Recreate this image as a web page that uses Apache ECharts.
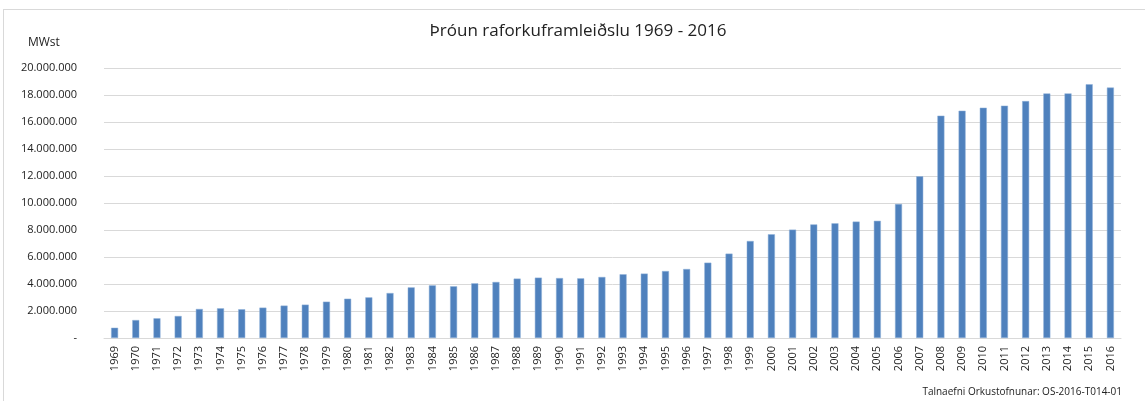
<!DOCTYPE html>
<html>
<head>
<meta charset="utf-8">
<script src="https://cdn.jsdelivr.net/npm/echarts@6/dist/echarts.min.js"></script>
<style>
html,body{margin:0;padding:0;background:#fff;}
#c{width:1145px;height:401px;}
</style>
</head>
<body>
<div id="c"></div>
<script>
const years = ['1969','1970','1971','1972','1973','1974','1975','1976','1977','1978','1979','1980','1981','1982','1983','1984','1985','1986','1987','1988','1989','1990','1991','1992','1993','1994','1995','1996','1997','1998','1999','2000','2001','2002','2003','2004','2005','2006','2007','2008','2009','2010','2011','2012','2013','2014','2015','2016'];
const production = [760000,1330000,1460000,1630000,2150000,2200000,2130000,2250000,2400000,2470000,2690000,2910000,3010000,3330000,3750000,3900000,3830000,4050000,4150000,4400000,4470000,4440000,4420000,4520000,4720000,4770000,4960000,5110000,5580000,6250000,7185000,7684000,8028000,8411000,8495000,8623000,8681000,9925000,11976000,16468000,16835000,17059000,17210000,17549000,18116000,18120000,18798000,18549000];
const titleText = 'Þróun raforkuframleiðslu 1969 - 2016';
const unitText = 'MWst';
const sourceText = 'Talnaefni Orkustofnunar: OS-2016-T014-01';

function fmt(v){
  if (v === 0) return '-';
  return String(v).replace(/\B(?=(\d{3})+(?!\d))/g, '.');
}

const chart = echarts.init(document.getElementById('c'), null, {renderer:'canvas'});
chart.setOption({
  animation:false,
  backgroundColor:'#ffffff',
  textStyle:{fontFamily:'Open Sans'},
  title:[
    {text:titleText,left:578,top:23,padding:0,textAlign:'center',textStyle:{fontSize:17,fontWeight:'normal',color:'#222',fontFamily:'Open Sans'}},
    {text:unitText,left:28,top:37,padding:0,textStyle:{fontSize:12,fontWeight:'normal',color:'#222',fontFamily:'Open Sans'}},
    {text:sourceText,right:23,top:387,padding:0,textStyle:{fontSize:10,fontWeight:'normal',color:'#222',fontFamily:'Open Sans'}}
  ],
  graphic:[
    {type:'line',shape:{x1:3,y1:9.5,x2:1145,y2:9.5},style:{stroke:'#d9d9d9',lineWidth:1}},
    {type:'line',shape:{x1:3.5,y1:9,x2:3.5,y2:401},style:{stroke:'#d9d9d9',lineWidth:1}}
  ],
  grid:{left:104,right:24,top:68,bottom:63,containLabel:false},
  xAxis:{
    type:'category',
    data:years,
    axisLine:{lineStyle:{color:'#d9d9d9'}},
    axisTick:{show:false},
    axisLabel:{rotate:90,fontSize:11,color:'#222',margin:8,interval:0,fontFamily:'Open Sans'}
  },
  yAxis:{
    type:'value',
    min:0,max:20000000,interval:2000000,
    axisLine:{show:false},
    axisTick:{show:false},
    splitLine:{lineStyle:{color:'#d9d9d9'}},
    axisLabel:{fontSize:11,color:'#222',margin:27,formatter:fmt,fontFamily:'Open Sans'}
  },
  series:[{
    type:'bar',
    data:production,
    barWidth:7,
    itemStyle:{color:'#4f81bd',borderColor:'#8fb0d8',borderWidth:0.5}
  }]
});
</script>
</body>
</html>
